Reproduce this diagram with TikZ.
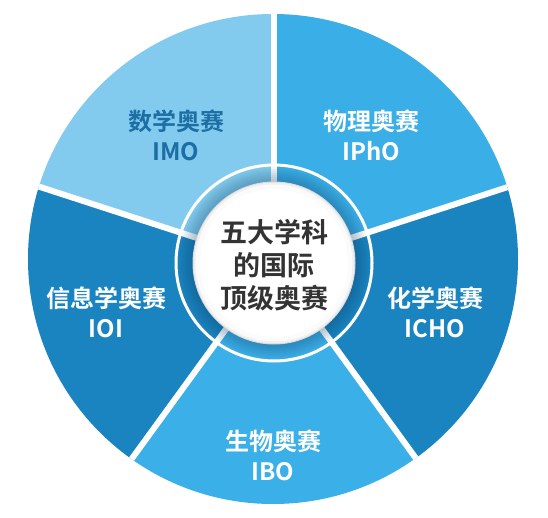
\documentclass[tikz,border=0pt]{standalone}
\usepackage{fontspec}
\newfontfamily\cjkb{Noto Sans CJK SC Bold}
\definecolor{cIMO}{HTML}{82CBEF}
\definecolor{cIPhO}{HTML}{3AAEE6}
\definecolor{cDark}{HTML}{1A84C0}
\definecolor{cIBO}{HTML}{3BAFE7}
\definecolor{txtIMO}{HTML}{1C6EA4}
\definecolor{txtCenter}{HTML}{333333}
\definecolor{shadeBlue}{HTML}{0A3A5C}
\begin{document}
\begin{tikzpicture}[x=1pt,y=1pt,
  gap/.style={white,line width=6pt},
  lbl/.style={font=\cjkb\fontsize{24}{30}\selectfont,align=center,text=white,inner sep=0pt},
  ctr/.style={font=\cjkb\fontsize{27}{33}\selectfont,align=center,text=txtCenter,inner sep=0pt}]
\useasboundingbox (0,0) rectangle (548,517);
\fill[white] (0,0) rectangle (548,517);
\coordinate (M) at (273,258);
\coordinate (I) at (274,254);
\begin{scope}
  \clip (M) circle (245);
  \fill[cIMO]  (I) -- ++(90:400)  arc (90:162:400)  -- cycle;
  \fill[cDark] (I) -- ++(162:400) arc (162:234:400) -- cycle;
  \fill[cIBO]  (I) -- ++(234:400) arc (234:306:400) -- cycle;
  \fill[cDark] (I) -- ++(306:400) arc (306:378:400) -- cycle;
  \fill[cIPhO] (I) -- ++(18:400)  arc (18:90:400)   -- cycle;
  \foreach \a in {90,162,234,306,18} \draw[gap] (I) -- ++(\a:300);
  % shadow band inside the ring
  \foreach \r in {96,94,92,90,88,86,84,82}
    \fill[shadeBlue,opacity=0.045] (I) circle (\r);
\end{scope}
\draw[white,line width=3pt] (I) circle (98);
\fill[gray!30] (I) circle (81.5);
\fill[gray!12] (I) circle (80.5);
\fill[white!97!gray] (I) circle (78.5);
\fill[white] (I) circle (74);
\node[lbl,text=txtIMO] (imo) at (176,381.5) {数学奥赛\\IMO};
\node[lbl] (ipho) at (371,381.5) {物理奥赛\\IPhO};
\node[lbl] (ioi) at (106,204.5) {信息学奥赛\\IOI};
\node[lbl] (icho) at (435,204.5) {化学奥赛\\ICHO};
\node[lbl] (ibo) at (273,62) {生物奥赛\\IBO};
\node[ctr] (center) at (274,252) {五大学科\\的国际\\顶级奥赛};
\end{tikzpicture}
\end{document}
